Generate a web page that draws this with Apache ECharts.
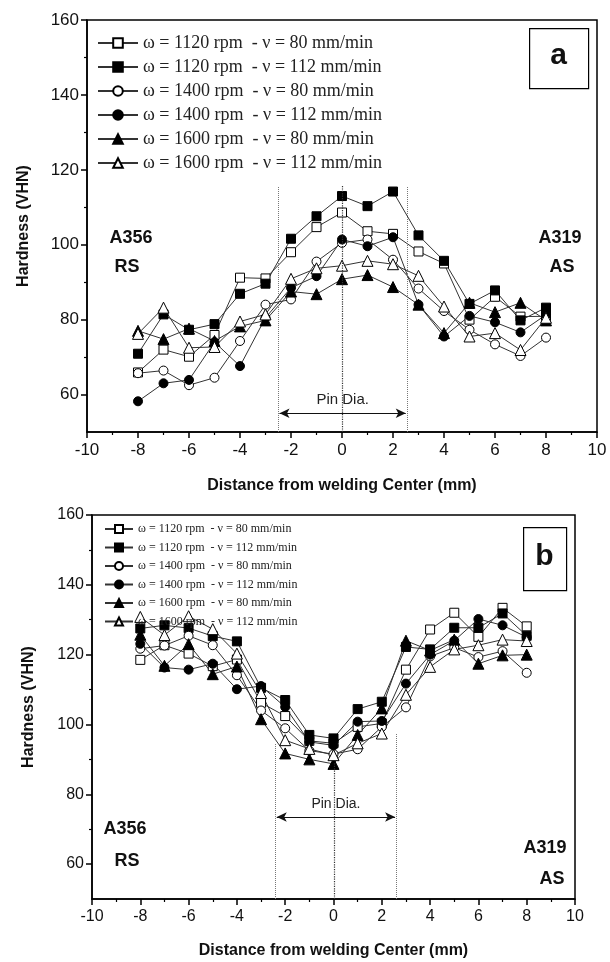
<!DOCTYPE html>
<html><head><meta charset="utf-8">
<script src="https://cdn.jsdelivr.net/npm/echarts@6/dist/echarts.min.js"></script>
<style>html,body{margin:0;padding:0;background:#fff}#c{width:610px;height:962px}</style>
</head><body><div id="c"></div>
<script>
// ---- data ----
const distance = [-8,-7,-6,-5,-4,-3,-2,-1,0,1,2,3,4,5,6,7,8];
const seriesNames = [
  'ω = 1120 rpm  - ν = 80 mm/min',
  'ω = 1120 rpm  - ν = 112 mm/min',
  'ω = 1400 rpm  - ν = 80 mm/min',
  'ω = 1400 rpm  - ν = 112 mm/min',
  'ω = 1600 rpm  - ν = 80 mm/min',
  'ω = 1600 rpm  - ν = 112 mm/min'
];
// chart (a)
const a_1120_80  = [65.9,72.0,70.1,75.9,91.2,91.0,98.0,104.7,108.6,103.6,102.9,98.2,95.0,80.0,86.1,80.8,80.9];
const a_1120_112 = [70.9,81.4,77.3,78.8,86.9,89.6,101.6,107.6,113.0,110.3,114.2,102.5,95.7,84.2,87.8,79.8,83.2];
const a_1400_80  = [65.7,66.4,62.5,64.5,74.3,84.0,85.4,95.5,100.5,101.4,96.0,88.3,82.3,77.3,73.4,70.3,75.2];
const a_1400_112 = [58.2,63.0,63.9,74.0,67.6,80.5,88.5,91.6,101.4,99.6,102.0,84.0,75.5,81.0,79.3,76.6,81.3];
const a_1600_80  = [77.0,74.8,77.6,74.3,78.2,79.8,87.5,86.8,90.8,91.9,88.7,84.0,76.4,84.5,82.0,84.5,79.8];
const a_1600_112 = [76.2,83.2,72.5,72.7,79.5,81.4,90.9,93.7,94.4,95.7,94.8,91.7,83.5,75.5,76.4,71.9,80.5];
// chart (b)
const b_1120_80  = [118.5,122.7,120.3,116.7,118.6,106.2,102.4,95.3,94.6,99.3,100.3,115.7,127.2,132.0,125.1,133.4,128.1];
const b_1120_112 = [127.5,128.4,127.6,125.3,123.8,110.5,107.0,97.0,96.0,104.4,106.5,122.2,121.5,127.7,127.7,131.8,125.4];
const b_1400_80  = [121.7,122.6,125.4,122.7,114.1,104.0,98.9,92.5,91.5,92.9,99.3,104.9,119.5,122.0,119.3,121.0,114.8];
const b_1400_112 = [123.1,116.3,115.7,117.4,110.1,111.0,105.0,95.0,94.0,100.8,101.0,111.7,120.0,124.0,130.2,128.4,125.0];
const b_1600_80  = [125.7,116.8,123.0,114.4,116.6,101.5,91.7,90.0,88.7,97.0,104.6,124.0,121.2,124.3,117.4,119.8,120.0];
const b_1600_112 = [130.8,125.6,131.0,127.3,120.3,109.0,95.5,93.0,91.2,94.6,97.4,108.5,116.5,121.5,122.7,124.3,123.9];
// ticks
const yMajorTicks = [60,80,100,120,140,160];
const yMinorTicks = [70,90,110,130,150];
const pinA = [-2.5, 2.55];
const pinB = [-2.4, 2.6];

const aData = [a_1120_80,a_1120_112,a_1400_80,a_1400_112,a_1600_80,a_1600_112];
const bData = [b_1120_80,b_1120_112,b_1400_80,b_1400_112,b_1600_80,b_1600_112];
const symbols = ['rect','rect','circle','circle','triangle','triangle'];
const filled = [false,true,false,true,true,false];
const symSizes = {rect:9, circle:9, triangle:11};

const SANS = 'Liberation Sans, Arial, sans-serif';
const SERIF = 'Liberation Serif, Times New Roman, serif';

function mkSeries(vals, i, gi){
  return {
    name: seriesNames[i], type:'line',
    xAxisIndex: gi, yAxisIndex: gi*2,
    data: distance.map((d,k)=>[d, vals[k]]),
    symbol: symbols[i], symbolSize: symSizes[symbols[i]],
    lineStyle:{color:'#333', width:1},
    itemStyle:{color: filled[i] ? '#000' : '#fff', borderColor:'#000', borderWidth:1},
    z: 3, animation:false
  };
}
function pinMarks(pin, top, center, centerTop, arrowY, labelFs){
  return {
    silent:true, symbol:'none', animation:false,
    data:[
      [{coord:[pin[0],50], lineStyle:{type:'dotted',color:'#777',width:1}},{coord:[pin[0],top[0]]}],
      [{coord:[pin[1],50], lineStyle:{type:'dotted',color:'#777',width:1}},{coord:[pin[1],top[1]]}],
      [{coord:[center,50], lineStyle:{type:'dotted',color:'#333',width:1.2}},{coord:[center,centerTop]}],
      [{coord:[pin[0]+0.05,arrowY], symbol:'arrow', symbolSize:[7,10], lineStyle:{type:'solid',color:'#111',width:1},
        label:{show:true, formatter:'Pin Dia.', position:'insideMiddleTop', distance:6, color:'#222', fontSize:labelFs, fontFamily:SANS}},
       {coord:[pin[1]-0.05,arrowY], symbol:'arrow', symbolSize:[7,10]}]
    ]
  };
}

const series = [];
aData.forEach((v,i)=>series.push(mkSeries(v,i,0)));
bData.forEach((v,i)=>series.push(mkSeries(v,i,1)));
series[0].markLine = pinMarks(pinA, [115.5,115.5], 0, 116, 55, 15);
series[6].markLine = pinMarks(pinB, [94.5,97.5], 0.05, 89, 73.5, 14);

function yMajor(gi, fs){
  return {type:'value', gridIndex:gi, min:50, max:160, position:'left',
    axisLine:{show:true, onZero:false, lineStyle:{color:'#000', width:1.5}},
    axisTick:{show:true, customValues:yMajorTicks, length:6, lineStyle:{color:'#000', width:1.5}},
    axisLabel:{customValues:yMajorTicks, fontSize:fs, color:'#111', fontFamily:SANS, margin:8},
    splitLine:{show:false},
    name:'Hardness (VHN)', nameLocation:'middle', nameGap:55,
    nameTextStyle:{fontWeight:'bold', fontSize:16, color:'#111', fontFamily:SANS}};
}
function yMinor(gi){
  return {type:'value', gridIndex:gi, min:50, max:160, position:'left', offset:0,
    axisLine:{show:false, onZero:false}, axisLabel:{show:false}, splitLine:{show:false},
    axisTick:{show:true, customValues:yMinorTicks, length:3, lineStyle:{color:'#000', width:1.2}}};
}
function xAx(gi, fs, gap){
  return {type:'value', gridIndex:gi, min:-10, max:10, interval:2,
    axisLine:{show:true, onZero:false, lineStyle:{color:'#000', width:1.5}},
    axisTick:{show:true, length:6, lineStyle:{color:'#000', width:1.5}},
    minorTick:{show:true, splitNumber:2, length:3, lineStyle:{color:'#000', width:1.2}},
    axisLabel:{fontSize:fs, color:'#111', fontFamily:SANS, margin:10},
    splitLine:{show:false},
    name:'Distance from welding Center (mm)', nameLocation:'middle', nameGap:gap,
    nameTextStyle:{fontWeight:'bold', fontSize:16, color:'#111', fontFamily:SANS}};
}

const boxes = [
  {type:'rect', left:529, top:28, shape:{width:59, height:60}, style:{fill:'#fff', stroke:'#000', lineWidth:1.2}},
  {type:'rect', left:523, top:527, shape:{width:43, height:63}, style:{fill:'#fff', stroke:'#000', lineWidth:1.2}}
];
const labels = [
  [558.5,56,'a',30],[544.5,557,'b',30],
  [131,238,'A356',18],[127,267,'RS',18],[560,238,'A319',18],[562,267,'AS',18],
  [125,829,'A356',18],[127,861,'RS',18],[545,848,'A319',18],[552,879,'AS',18]
];

const option = {
  backgroundColor:'#fff',
  animation:false,
  grid:[
    {left:87, top:20, width:510, height:412, show:true, borderColor:'#000', borderWidth:1.5},
    {left:92, top:515, width:483, height:384, show:true, borderColor:'#000', borderWidth:1.5}
  ],
  xAxis:[xAx(0,17,46), xAx(1,16,44)],
  yAxis:[yMajor(0,17), yMinor(0), yMajor(1,16), yMinor(1)],
  legend:[
    {data:seriesNames, left:92, top:29, orient:'vertical', itemWidth:40, itemHeight:12, itemGap:6,
     selectedMode:false, textStyle:{fontFamily:SERIF, fontSize:18, color:'#222'}},
    {data:seriesNames, left:99, top:518, orient:'vertical', itemWidth:28, itemHeight:10, itemGap:6.5,
     selectedMode:false, textStyle:{fontFamily:SERIF, fontSize:12, color:'#222'}}
  ],
  graphic: boxes.concat(labels.map(l=>({type:'text', x:l[0], y:l[1], z:10,
    style:{text:l[2], font:'bold '+l[3]+'px '+SANS, fill:'#111', align:'center', verticalAlign:'middle'}}))),
  series
};
const chart = echarts.init(document.getElementById('c'), null, {renderer:'canvas'});
chart.setOption(option);
</script></body></html>
